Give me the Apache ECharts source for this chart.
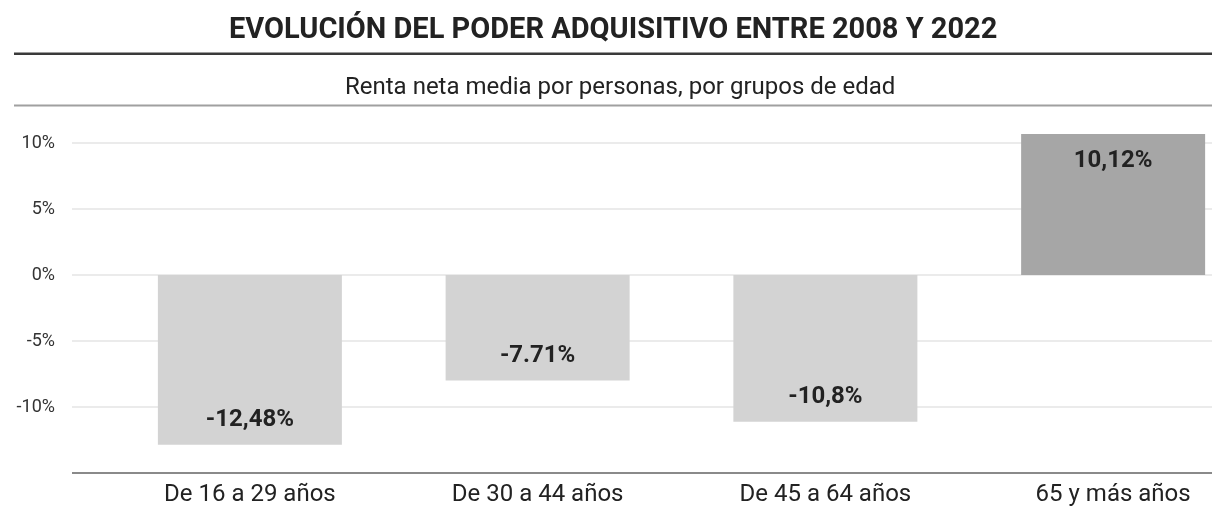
<!DOCTYPE html>
<html>
<head>
<meta charset="utf-8">
<script src="https://cdn.jsdelivr.net/npm/echarts@6/dist/echarts.min.js"></script>
<style>
  html, body { margin: 0; padding: 0; background: #fff; }
  #chart { width: 1212px; height: 506px; }
</style>
</head>
<body>
<div id="chart"></div>
<script>
// datos
const categorias = ['De 16 a 29 años', 'De 30 a 44 años', 'De 45 a 64 años', '65 y más años']
const valores = [-12.86, -8.0, -11.11, 10.68]
const etiquetas = ['-12,48%', '-7.71%', '-10,8%', '10,12%']
const colores = ['#d3d3d3', '#d3d3d3', '#d3d3d3', '#a6a6a6']
const ticksY = [-15, -10, -5, 0, 5, 10]

const myChart = echarts.init(document.getElementById('chart'))

const fuente = 'Roboto, "Noto Sans", sans-serif'

myChart.setOption({
  animation: false,
  backgroundColor: '#fff',
  title: [
    {
      text: 'EVOLUCIÓN DEL PODER ADQUISITIVO ENTRE 2008 Y 2022',
      left: 224,
      top: 11,
      textStyle: { fontFamily: fuente, fontSize: 29, fontWeight: 'bold', color: '#222' }
    },
    {
      text: 'Renta neta media por personas, por grupos de edad',
      left: 340,
      top: 71,
      textStyle: { fontFamily: fuente, fontSize: 24, fontWeight: 'normal', color: '#222' }
    }
  ],
  graphic: [
    { type: 'rect', shape: { x: 14, y: 52.5, width: 1200, height: 2.5 }, style: { fill: '#3a3a3a' } },
    { type: 'rect', shape: { x: 14, y: 104.5, width: 1200, height: 2 }, style: { fill: '#a0a0a0' } }
  ],
  grid: [
    // rejilla para las líneas y el eje Y
    { left: 72, width: 1140, top: 143, bottom: 33 },
    // rejilla para las barras (sobresale por la derecha)
    { left: 106, width: 1151, top: 143, bottom: 33, outerBoundsMode: 'none' }
  ],
  xAxis: [
    {
      gridIndex: 0,
      type: 'category',
      data: categorias,
      axisLine: { show: false },
      axisTick: { show: false },
      axisLabel: { show: false }
    },
    {
      gridIndex: 1,
      type: 'category',
      data: categorias,
      position: 'bottom',
      axisLine: { show: false },
      axisTick: { show: false },
      axisLabel: { margin: 10, fontFamily: fuente, fontSize: 24, color: '#222' }
    }
  ],
  yAxis: [
    {
      gridIndex: 0,
      type: 'value',
      min: ticksY[0],
      max: ticksY[ticksY.length - 1],
      interval: 5,
      axisLine: { show: false },
      axisTick: { show: false },
      splitLine: { lineStyle: { color: '#e4e4e4', width: 1.5 } },
      axisLabel: {
        margin: 17,
        fontFamily: fuente,
        fontSize: 18,
        color: '#333',
        showMinLabel: false,
        formatter: v => v + '%'
      }
    },
    {
      gridIndex: 1,
      type: 'value',
      min: ticksY[0],
      max: ticksY[ticksY.length - 1],
      interval: 5,
      show: false
    }
  ],
  series: [
    {
      // línea del eje X a -15%
      type: 'line',
      xAxisIndex: 0,
      yAxisIndex: 0,
      data: [],
      markLine: {
        silent: true,
        symbol: 'none',
        label: { show: false },
        lineStyle: { color: '#8a8a8a', width: 2, type: 'solid' },
        data: [{ yAxis: ticksY[0] }]
      }
    },
    {
      type: 'bar',
      xAxisIndex: 1,
      yAxisIndex: 1,
      barWidth: 184,
      clip: false,
      data: valores.map((v, i) => ({
        value: v,
        itemStyle: { color: colores[i] },
        label: {
          position: v < 0 ? 'insideBottom' : 'insideTop',
          distance: v < 0 ? 13 : 15
        }
      })),
      label: {
        show: true,
        fontFamily: fuente,
        fontSize: 24,
        fontWeight: 'bold',
        color: '#222',
        formatter: p => etiquetas[p.dataIndex]
      }
    }
  ]
})

window.addEventListener('resize', () => {
  myChart.resize()
})
</script>
</body>
</html>
